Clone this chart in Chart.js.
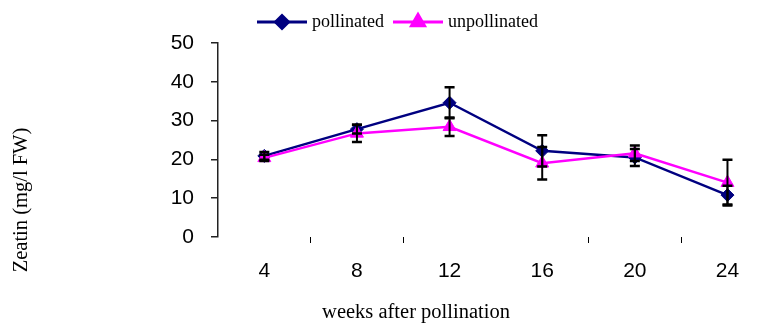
<!DOCTYPE html>
<html>
<head>
<meta charset="utf-8">
<script src="https://cdn.jsdelivr.net/npm/chart.js@4/dist/chart.umd.min.js"></script>
<style>
  html, body { margin: 0; padding: 0; background: #ffffff; }
  #wrap { width: 768px; height: 327px; position: relative; }
</style>
</head>
<body>
<div id="wrap"><canvas id="c" width="768" height="327"></canvas></div>
<script>
// Weeks after pollination (x positions of the measurements)
const weeks = [4, 8, 12, 16, 20, 24];
// Zeatin content, mg/l FW, with standard-error bars
const pollinated = [20.9, 27.8, 34.6, 22.2, 20.5, 10.8];
const pollinatedErr = [1.0, 1.1, 4.0, 4.0, 2.2, 2.4];
const unpollinated = [20.4, 26.7, 28.4, 19.0, 21.6, 14.0];
const unpollinatedErr = [0.8, 2.2, 2.4, 4.2, 2.0, 5.9];
// Axis labelling
const xTickLabels = ['4', '8', '12', '16', '20', '24'];
const xTickMarks = [6, 10, 18, 22];
const yTicks = [0, 10, 20, 30, 40, 50];
const seriesNames = ['pollinated', 'unpollinated'];
const xTitle = 'weeks after pollination';
const yTitle = 'Zeatin (mg/l FW)';

const NAVY = '#000080';
const MAGENTA = '#FF00FF';
const SANS = '"Liberation Sans", Arial, sans-serif';
const SERIF = '"Liberation Serif", "Times New Roman", serif';

const toPoints = (vals) => vals.map((v, i) => ({ x: weeks[i], y: v }));

// Error bars, drawn over the lines from the same scales
const errorBars = {
  id: 'errorBars',
  afterDatasetsDraw(chart) {
    const { ctx, scales: { x, y } } = chart;
    const sets = [
      { vals: pollinated, errs: pollinatedErr },
      { vals: unpollinated, errs: unpollinatedErr }
    ];
    ctx.save();
    ctx.strokeStyle = '#000000';
    sets.forEach(s => {
      s.vals.forEach((v, i) => {
        const px = x.getPixelForValue(weeks[i]);
        const top = y.getPixelForValue(v + s.errs[i]);
        const bot = y.getPixelForValue(v - s.errs[i]);
        ctx.lineWidth = 2;
        ctx.beginPath();
        ctx.moveTo(px, top); ctx.lineTo(px, bot);
        ctx.stroke();
        ctx.lineWidth = 2.5;
        ctx.beginPath();
        ctx.moveTo(px - 5, top); ctx.lineTo(px + 5, top);
        ctx.moveTo(px - 5, bot); ctx.lineTo(px + 5, bot);
        ctx.stroke();
      });
    });
    ctx.restore();
  }
};

// Legend row and axis titles
const decorations = {
  id: 'decorations',
  afterDraw(chart) {
    const { ctx } = chart;
    ctx.save();
    const items = [
      { ds: chart.data.datasets[1], x0: 257, label: seriesNames[0] },
      { ds: chart.data.datasets[0], x0: 393, label: seriesNames[1] }
    ];
    const ly = 22;
    items.forEach(it => {
      ctx.strokeStyle = it.ds.borderColor;
      ctx.lineWidth = 3;
      ctx.beginPath();
      ctx.moveTo(it.x0, ly); ctx.lineTo(it.x0 + 50, ly);
      ctx.stroke();
      ctx.fillStyle = it.ds.backgroundColor;
      ctx.strokeStyle = it.ds.borderColor;
      Chart.helpers.drawPoint(ctx, {
        pointStyle: it.ds.pointStyle, radius: it.ds.pointRadius,
        rotation: 0, borderWidth: 1
      }, it.x0 + 25, ly);
      ctx.fillStyle = '#000000';
      ctx.font = '18px ' + SERIF;
      ctx.textAlign = 'left';
      ctx.textBaseline = 'middle';
      ctx.fillText(it.label, it.x0 + 55, ly);
    });

    ctx.fillStyle = '#000000';
    ctx.font = '20.5px ' + SERIF;
    ctx.textAlign = 'center';
    ctx.textBaseline = 'middle';
    ctx.fillText(xTitle, 416, 313);

    ctx.translate(22, 200);
    ctx.rotate(-Math.PI / 2);
    ctx.fillText(yTitle, 0, 0);
    ctx.restore();
  }
};

new Chart(document.getElementById('c'), {
  type: 'line',
  data: {
    datasets: [
      {
        label: seriesNames[1],
        data: toPoints(unpollinated),
        borderColor: MAGENTA,
        backgroundColor: MAGENTA,
        borderWidth: 2.5,
        pointStyle: 'triangle',
        pointRadius: 7.5,
        pointBorderWidth: 1,
        tension: 0
      },
      {
        label: seriesNames[0],
        data: toPoints(pollinated),
        borderColor: NAVY,
        backgroundColor: NAVY,
        borderWidth: 2.5,
        pointStyle: 'rectRot',
        pointRadius: 6.5,
        pointBorderWidth: 1,
        tension: 0
      }
    ]
  },
  options: {
    responsive: false,
    animation: false,
    events: [],
    layout: { autoPadding: false, padding: { left: 0, right: 0, top: 43, bottom: 0 } },
    plugins: { legend: { display: false }, tooltip: { enabled: false } },
    scales: {
      x: {
        type: 'linear',
        min: 2,
        max: 25.75,
        afterBuildTicks(scale) {
          const vals = weeks.concat(xTickMarks).sort((a, b) => a - b);
          scale.ticks = vals.map(v => ({ value: v }));
        },
        afterFit(scale) {
          scale.height = 90;
          scale.paddingLeft = 0;
          scale.paddingRight = 0;
        },
        border: { display: false },
        grid: {
          drawOnChartArea: false,
          drawTicks: true,
          tickLength: 6,
          lineWidth: 1,
          color: (c) => (c.tick && xTickMarks.includes(c.tick.value)) ? '#000000' : 'rgba(0,0,0,0)'
        },
        ticks: {
          autoSkip: false,
          maxRotation: 0,
          padding: 16,
          color: '#000000',
          font: { family: SANS, size: 21 },
          callback: (v) => {
            const i = weeks.indexOf(v);
            return i >= 0 ? xTickLabels[i] : '';
          }
        }
      },
      y: {
        min: 0,
        max: 50,
        afterBuildTicks(scale) { scale.ticks = yTicks.map(v => ({ value: v })); },
        afterFit(scale) { scale.width = 218; },
        border: { display: true, color: '#222222', width: 1.5 },
        grid: {
          drawOnChartArea: false,
          drawTicks: true,
          tickLength: 7,
          color: '#222222',
          lineWidth: 1.5
        },
        ticks: {
          padding: 17,
          color: '#000000',
          font: { family: SANS, size: 21 }
        }
      }
    }
  },
  plugins: [errorBars, decorations]
});
</script>
</body>
</html>
